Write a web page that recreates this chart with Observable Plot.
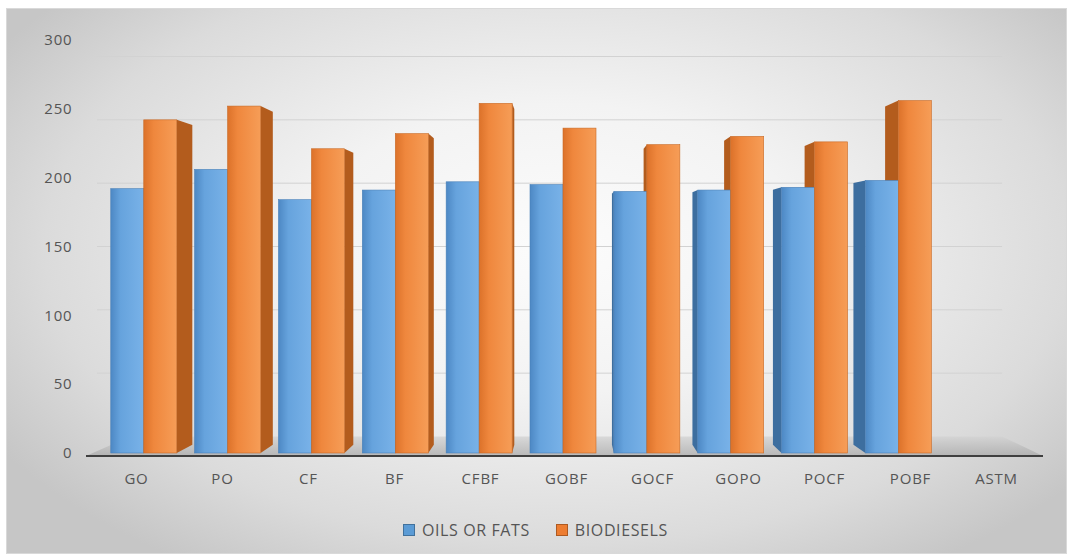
<!DOCTYPE html>
<html>
<head>
<meta charset="utf-8">
<script src="https://cdn.jsdelivr.net/npm/d3@7"></script>
<script src="https://cdn.jsdelivr.net/npm/@observablehq/plot@0.6"></script>
<style>
  html, body { margin: 0; padding: 0; background: #ffffff; }
  #page { position: relative; width: 1073px; height: 559px; overflow: hidden; background: #ffffff; }
  #frame {
    position: absolute; left: 6px; top: 8px; width: 1061px; height: 546px;
    box-sizing: border-box; border: 1px solid #d9d9d9;
    background: radial-gradient(ellipse 62% 70% at 52% 44%, #fcfcfc 0%, #f3f3f3 38%, #dbdbdb 78%, #c6c6c6 100%);
  }
  #chart { position: absolute; left: 0; top: 0; }
  #chart svg text { letter-spacing: 0.8px; }
  #legend {
    position: absolute; left: 403px; top: 519px; display: flex; align-items: center; gap: 26px;
    font-family: "Open Sans", sans-serif; font-size: 16px; letter-spacing: 0.6px; color: #555555;
  }
  #legend .item { display: flex; align-items: center; gap: 7px; }
  #legend .sw { width: 10px; height: 10px; border: 1px solid; }
  #defs { position: absolute; width: 0; height: 0; }
</style>
</head>
<body>
<div id="page">
  <div id="frame"></div>
  <svg id="defs" aria-hidden="true">
    <defs>
      <linearGradient id="blueFront" x1="0" x2="1" y1="0" y2="0">
        <stop offset="0" stop-color="#4d88c4"/>
        <stop offset="0.3" stop-color="#66a3dd"/>
        <stop offset="1" stop-color="#79b2e8"/>
      </linearGradient>
      <linearGradient id="orangeFront" x1="0" x2="1" y1="0" y2="0">
        <stop offset="0" stop-color="#dc722a"/>
        <stop offset="0.3" stop-color="#ef873d"/>
        <stop offset="1" stop-color="#f69d57"/>
      </linearGradient>
      <linearGradient id="floorFill" x1="0" x2="0" y1="0" y2="1">
        <stop offset="0" stop-color="#d2d2d2"/>
        <stop offset="1" stop-color="#a9a9a9"/>
      </linearGradient>
    </defs>
  </svg>
  <div id="chart"></div>
  <div id="legend"></div>
</div>
<script>
// Samples and their two measured series
const categories = ["GO", "PO", "CF", "BF", "CFBF", "GOBF", "GOCF", "GOPO", "POCF", "POBF", "ASTM"];
const oilsOrFats = [192, 206, 184, 191, 197, 195, 190, 191, 193, 198, null];
const biodiesels = [242, 252, 221, 232, 254, 236, 224, 230, 226, 256, null];
const seriesNames = ["OILS OR FATS", "BIODIESELS"];
const yTicks = [0, 50, 100, 150, 200, 250, 300];

const seriesColors = {
  "OILS OR FATS": {front: "url(#blueFront)", side: "#3d6e9f", edge: "#4a80b8", swatch: "#5b9bd5", border: "#41719c"},
  "BIODIESELS": {front: "url(#orangeFront)", side: "#b35c1d", edge: "#c96a26", swatch: "#ed7d31", border: "#ae5a21"}
};

// Long table built from the arrays (missing values are left out)
const rows = [];
categories.forEach((c, i) => {
  if (oilsOrFats[i] != null) rows.push({category: c, series: seriesNames[0], value: oilsOrFats[i]});
  if (biodiesels[i] != null) rows.push({category: c, series: seriesNames[1], value: biodiesels[i]});
});

// Pseudo-3D projection: everything recedes toward the centre of the plot frame
const BAR_PLANE = 0.975;  // bar fronts sit slightly behind the axis plane
const BAR_DEPTH = 0.96;   // back faces of the columns
const WALL_PLANE = 0.92;  // back wall carrying the gridlines

function vanishing(dim) {
  return {
    cx: (dim.marginLeft + dim.width - dim.marginRight) / 2,
    cy: (dim.marginTop + dim.height - dim.marginBottom) / 2
  };
}

// Column position inside each category band
const insets = {
  "OILS OR FATS": {insetLeft: 7, insetRight: 46},
  "BIODIESELS": {insetLeft: 40, insetRight: 13}
};

function shiftBands(values, scales, dim) {
  const {cx} = vanishing(dim);
  const bw = scales.x.bandwidth();
  return Array.from(values.x, (x) => cx + (x + bw / 2 - cx) * BAR_PLANE - bw / 2);
}

function columnSides(series) {
  const {insetLeft, insetRight} = insets[series];
  return Plot.barY(rows.filter((d) => d.series === series), {
    x: "category", y: "value", insetLeft, insetRight,
    render(index, scales, values, dim) {
      const {cx, cy} = vanishing(dim);
      const bw = scales.x.bandwidth();
      const X = shiftBands(values, scales, dim);
      const g = d3.create("svg:g");
      for (const i of index) {
        const a = X[i] + insetLeft;
        const b = X[i] + bw - insetRight;
        const yt = Math.min(values.y1[i], values.y2[i]);
        const yb = Math.max(values.y1[i], values.y2[i]);
        const e = (a + b) / 2 < cx ? b : a;
        const eb = cx + (e - cx) * BAR_DEPTH;
        const ytb = cy + (yt - cy) * BAR_DEPTH;
        const ybb = cy + (yb - cy) * BAR_DEPTH;
        g.append("polygon")
          .attr("points", [[e, yt], [eb, ytb], [eb, ybb], [e, yb]].map((p) => p.join(",")).join(" "))
          .attr("fill", seriesColors[series].side);
      }
      return g.node();
    }
  });
}

function columnFronts(series) {
  return Plot.barY(rows.filter((d) => d.series === series), {
    x: "category", y: "value", ...insets[series],
    fill: seriesColors[series].front,
    stroke: seriesColors[series].edge, strokeWidth: 0.6,
    render(index, scales, values, dim, ctx, next) {
      return next(index, scales, {...values, x: shiftBands(values, scales, dim)}, dim, ctx);
    }
  });
}

// Floor of the 3D plot with the category axis line along its front edge
function floor(index, scales, values, dim) {
  const {cx, cy} = vanishing(dim);
  const y0 = scales.y(0);
  const xl = dim.marginLeft, xr = dim.width - dim.marginRight;
  const yb = cy + (y0 - cy) * WALL_PLANE;
  const g = d3.create("svg:g");
  g.append("polygon")
    .attr("points", [[xl - 6, y0 + 3], [xr + 3, y0 + 3], [cx + (xr - cx) * WALL_PLANE, yb], [cx + (xl - cx) * WALL_PLANE, yb]].map((p) => p.join(",")).join(" "))
    .attr("fill", "url(#floorFill)").attr("fill-opacity", 0.75);
  g.append("line")
    .attr("x1", xl - 6).attr("x2", xr + 3).attr("y1", y0 + 3).attr("y2", y0 + 3)
    .attr("stroke", "#3f3f3f").attr("stroke-width", 2);
  return g.node();
}

// Horizontal gridlines drawn on the back wall
function backWallGrid(index, scales, values, dim) {
  const {cx, cy} = vanishing(dim);
  const xl = dim.marginLeft + 5, xr = cx + (dim.width - dim.marginRight - cx) * WALL_PLANE;
  const g = d3.create("svg:g").attr("stroke", "#d2d2d2").attr("stroke-width", 1);
  for (const v of yTicks.slice(1)) {
    const y = cy + (scales.y(v) - cy) * WALL_PLANE;
    g.append("line").attr("x1", xl).attr("x2", xr).attr("y1", y).attr("y2", y);
  }
  return g.node();
}

const chart = Plot.plot({
  width: 1073,
  height: 500,
  marginTop: 40,
  marginBottom: 47,
  marginLeft: 92,
  marginRight: 33,
  style: {fontFamily: "Open Sans, sans-serif", fontSize: "15px", color: "#555555", background: "transparent", overflow: "visible"},
  x: {domain: categories, padding: 0, label: null, tickSize: 0, tickPadding: 20},
  y: {domain: [0, 300], ticks: yTicks, label: null, tickSize: 0, tickPadding: 20},
  marks: [
    floor,
    backWallGrid,
    columnSides("OILS OR FATS"),
    columnSides("BIODIESELS"),
    columnFronts("OILS OR FATS"),
    columnFronts("BIODIESELS")
  ]
});
document.getElementById("chart").append(chart);

// Series key under the chart
const legend = d3.select("#legend");
for (const s of seriesNames) {
  const item = legend.append("div").attr("class", "item");
  item.append("div").attr("class", "sw")
    .style("background", seriesColors[s].swatch).style("border-color", seriesColors[s].border);
  item.append("span").text(s);
}
</script>
</body>
</html>
